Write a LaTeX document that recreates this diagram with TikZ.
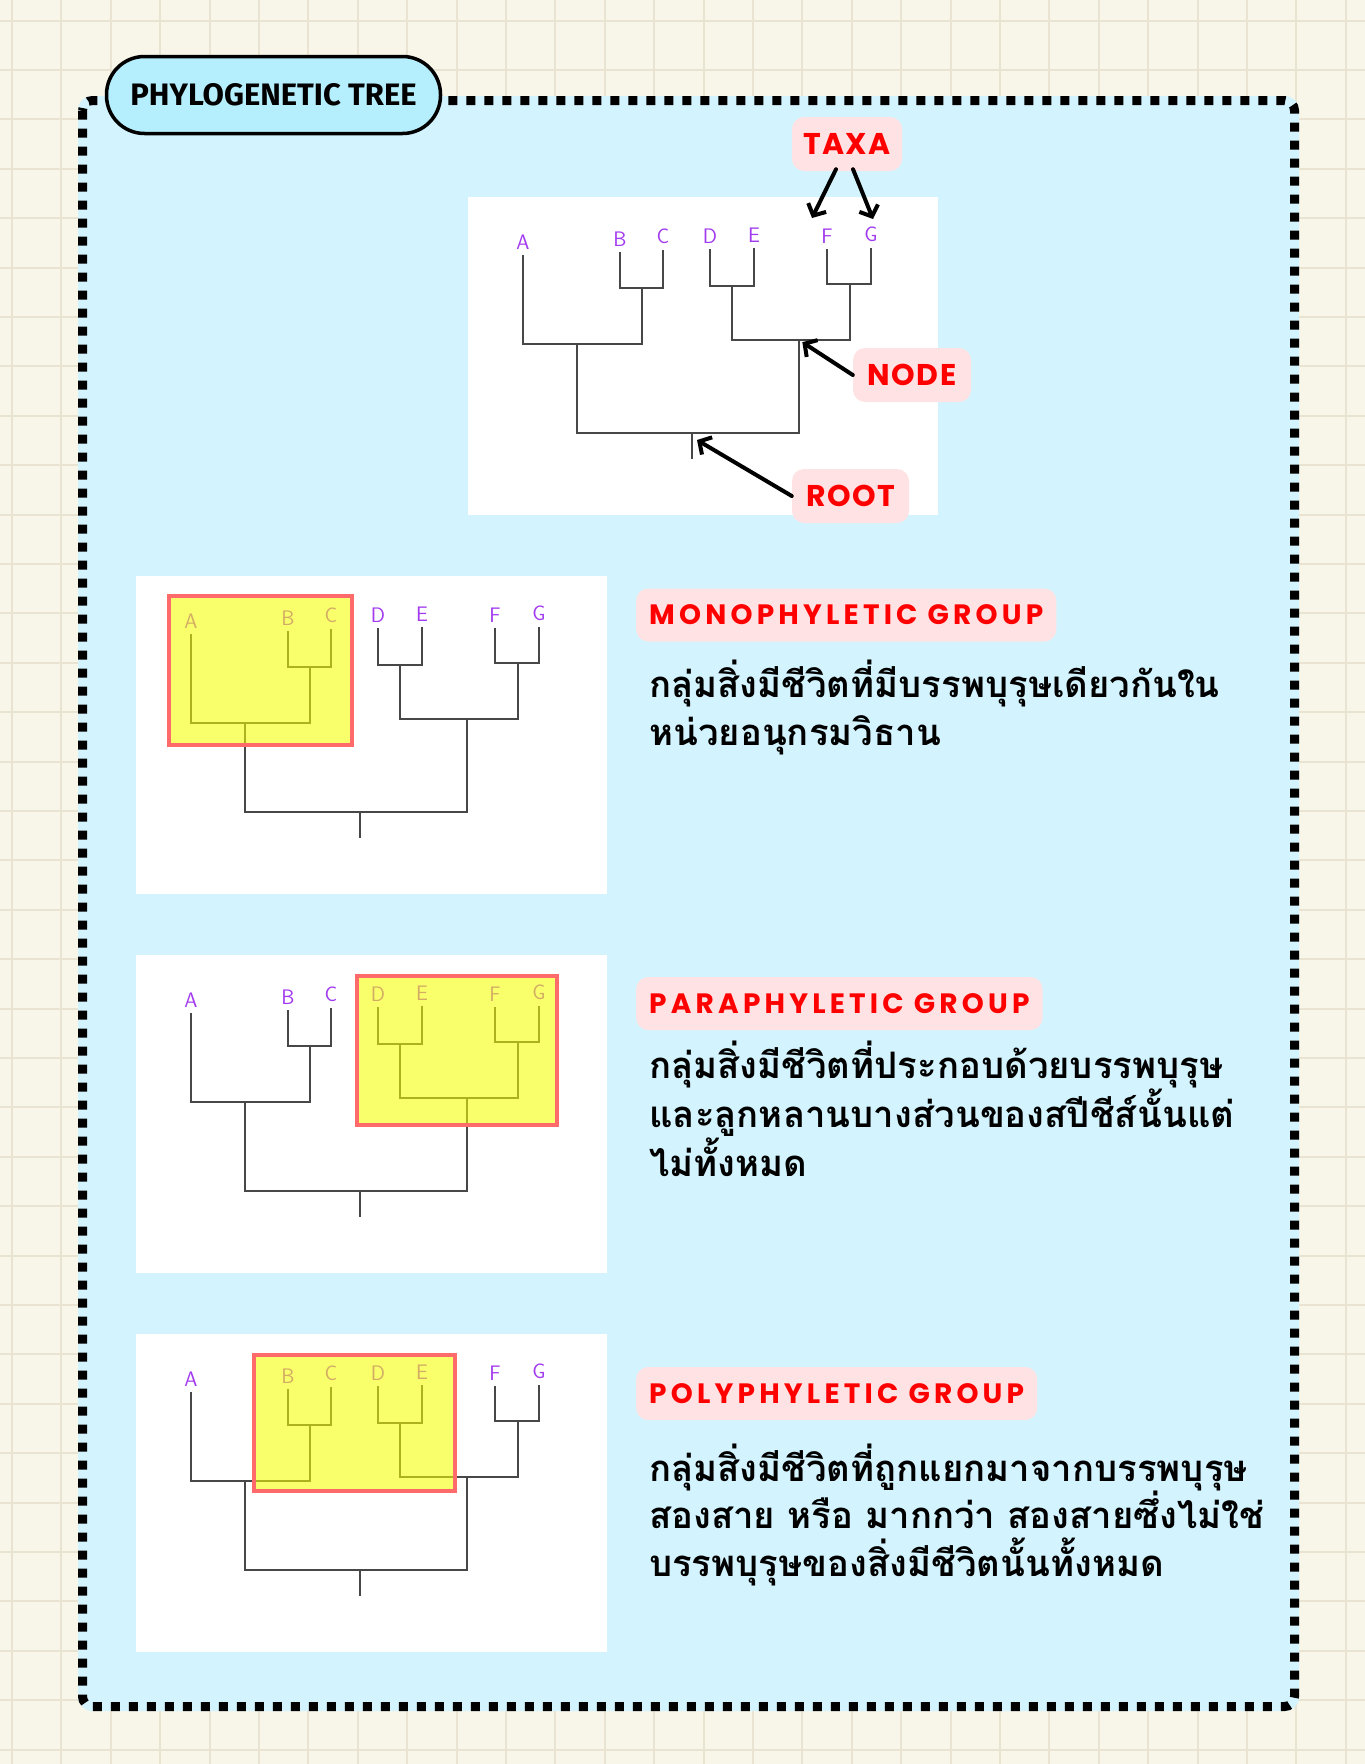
\documentclass[tikz,border=0pt]{standalone}
\usepackage{fontspec}
\usepackage{xcolor}
\usepackage{tikz}
\usetikzlibrary{arrows.meta}
\setmainfont{Fira Sans}
\newfontfamily\thaifont[Script=Thai]{Loma}
\newfontfamily\headfont[LetterSpace=15]{Poppins}
\newfontfamily\tagfont[LetterSpace=5]{Poppins}

\definecolor{paper}{HTML}{F8F5E9}
\definecolor{gridc}{HTML}{E9E3D2}
\definecolor{sky}{HTML}{D3F4FE}
\definecolor{pillblue}{HTML}{B5EEFC}
\definecolor{pinkbg}{HTML}{FFE3E4}
\definecolor{taxonc}{HTML}{A23BEF}
\definecolor{hlyellow}{HTML}{F6FF00}
\definecolor{hlred}{HTML}{FF6B6B}

\newcommand{\phylotree}{%
  \node[taxon] (A) at (55,58) {A};
  \node[taxon] (B) at (152,55) {B};
  \node[taxon] (C) at (195,53) {C};
  \node[taxon] (D) at (242,52) {D};
  \node[taxon] (E) at (286,51) {E};
  \node[taxon] (F) at (359,52) {F};
  \node[taxon] (G) at (403,51) {G};
  \coordinate (BC) at (174,91);
  \coordinate (DE) at (264,89);
  \coordinate (FG) at (382,87);
  \coordinate (ABC) at (109,147);
  \coordinate (DEFG) at (331,143);
  \coordinate (R) at (224,236);
  \coordinate (Rb) at (224,262);
  \draw[branch] (B) |- (BC) -| (C);
  \draw[branch] (D) |- (DE) -| (E);
  \draw[branch] (F) |- (FG) -| (G);
  \draw[branch] (A) |- (ABC) -| (BC);
  \draw[branch] (DE) |- (DEFG) -| (FG);
  \draw[branch] (ABC) |- (R) -| (DEFG);
  \draw[branch] (R) -- (Rb);
}

\begin{document}
\begin{tikzpicture}[x=1pt,y=-1pt,
    taxon/.style={anchor=south,inner xsep=1pt,inner ysep=6pt,outer sep=0pt,
                  text=taxonc,font=\sffamily\fontsize{21}{21}\selectfont},
    branch/.style={draw=black!72,line width=1.4pt},
    tag/.style={fill=pinkbg,rounded corners=12pt,text=red,
                font=\tagfont\bfseries\fontsize{30}{30}\selectfont},
    heading/.style={tag,anchor=west,inner xsep=13pt,minimum height=53pt,
                    font=\headfont\bfseries\fontsize{28}{28}\selectfont},
    desc/.style={anchor=base west,align=left,inner sep=0pt,
                 font=\thaifont\bfseries\fontsize{36.5}{47.5}\selectfont},
    pointer/.style={-{Straight Barb[length=9pt,width=20pt,line width=4pt]},
                    line width=4pt,line cap=round},
    clade/.style={fill=hlyellow,fill opacity=0.58}]
\useasboundingbox (0,0) rectangle (1365,1764);
\fill[paper] (0,0) rectangle (1365,1764);
\foreach \i in {0,...,27}
  \draw[gridc,line width=2pt] (12+49.4*\i,0) -- ++(0,1764);
\foreach \j in {0,...,35}
  \draw[gridc,line width=2pt] (0,20.6+49.4*\j) -- ++(1365,0);

\fill[sky,rounded corners=14pt] (78,96) rectangle (1299,1711);
\draw[line width=9pt,dash pattern=on 9pt off 9pt,rounded corners=10pt]
  (82.5,100.5) rectangle (1294.5,1706.5);

\node[draw,line width=3.5pt,fill=pillblue,rounded corners=38pt,
      minimum width=334pt,minimum height=77pt,
      font=\bfseries\fontsize{31}{31}\selectfont] (title) at (273.5,95) {PHYLOGENETIC TREE};

\fill[white] (468,197) rectangle ++(470,318);
\begin{scope}[shift={(468,197)},name prefix=t-]
  \phylotree
\end{scope}

\foreach \py/\xa/\ya/\xb/\yb in {576/33/20/216/169,955/221/21/421/170,1334/118/21/319/157} {
  \fill[white] (136,\py) rectangle ++(471,318);
  \begin{scope}[shift={(136,\py)}]
    \phylotree
    \fill[clade] (\xa,\ya) rectangle (\xb,\yb);
    \draw[hlred,line width=4pt] (\xa,\ya) rectangle (\xb,\yb);
  \end{scope}
}

\node[tag,minimum width=110pt,minimum height=54pt] (taxa) at (847,144) {TAXA};
\node[tag,minimum width=118pt,minimum height=54pt] (nodelbl) at (912,375) {NODE};
\node[tag,minimum width=117pt,minimum height=54pt] (rootlbl) at (850.5,496) {ROOT};
\coordinate (tipF) at (812,218);
\coordinate (tipG) at (873,219);
\coordinate (tipR) at (697,440);
\draw[pointer] ([xshift=-11pt,yshift=2pt]taxa.south) -- (tipF);
\draw[pointer] ([xshift=6pt,yshift=2pt]taxa.south) -- (tipG);
\draw[pointer,shorten >=4pt] (nodelbl.west) -- (t-DEFG);
\draw[pointer] (rootlbl.west) -- (tipR);

\node[heading] (mono) at (636,615) {MONOPHYLETIC GROUP};
\node[desc] (monotxt) at (649,745) {กลุ่มสิ่งมีชีวิตที่มีบรรพบุรุษเดียวกันใน\\หน่วยอนุกรมวิธาน};
\node[heading] (para) at (636,1003.5) {PARAPHYLETIC GROUP};
\node[desc] (paratxt) at (649,1176) {กลุ่มสิ่งมีชีวิตที่ประกอบด้วยบรรพบุรุษ\\และลูกหลานบางส่วนของสปีชีส์นั้นแต่\\ไม่ทั้งหมด};
\node[heading] (poly) at (636,1393.5) {POLYPHYLETIC GROUP};
\node[desc] (polytxt) at (649,1576) {กลุ่มสิ่งมีชีวิตที่ถูกแยกมาจากบรรพบุรุษ\\สองสาย หรือ มากกว่า สองสายซึ่งไม่ใช่\\บรรพบุรุษของสิ่งมีชีวิตนั้นทั้งหมด};
\end{tikzpicture}
\end{document}
